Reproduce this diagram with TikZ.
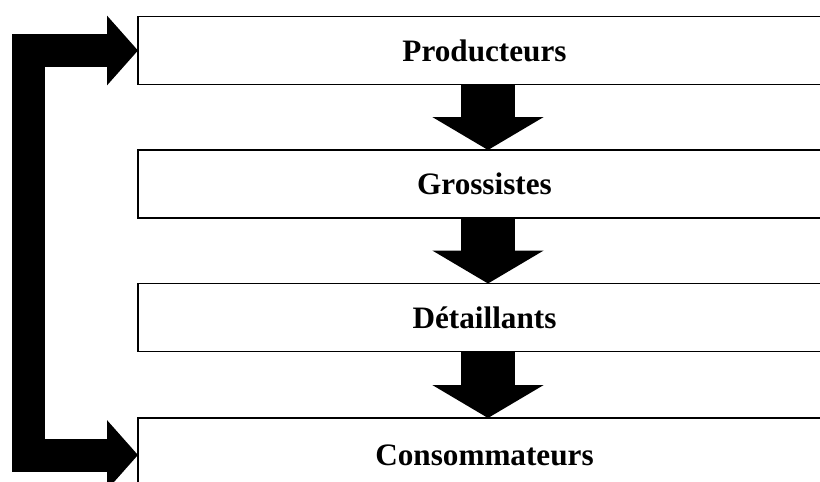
\documentclass[tikz,border=0pt]{standalone}
\usepackage{fontspec}
\setmainfont{Liberation Serif}
\usepackage{tikz}
\usetikzlibrary{arrows.meta,positioning,calc}

\begin{document}
\begin{tikzpicture}[
  x=0.5pt,y=-0.5pt,
  box/.style={draw,line width=0.75pt,minimum width=346.5pt,minimum height=34pt,
              inner sep=0pt,outer sep=0pt,font=\fontsize{15.6}{18}\selectfont\bfseries},
  down/.style={line width=27pt,-{Triangle[length=16.5pt,width=55pt]}},
  back/.style={line width=16.5pt,line join=miter,
               {Triangle[length=15.5pt,width=34pt]}-{Triangle[length=15.5pt,width=34pt]}}
]
\useasboundingbox (0,0) rectangle (820,482);
\clip (0,0) rectangle (820,482);

%% ── Chain of boxes ───────────────────────────────────────────────────────────
\node[box]                     (prod) at (484.5, 50.5) {Producteurs};
\node[box]                     (gros) at (484.5,184)   {Grossistes};
\node[box]                     (det)  at (484.5,317.5) {Détaillants};
\node[box,minimum height=37pt] (cons) at (484.5,455)   {Consommateurs};

%% ── Fat arrows between boxes ─────────────────────────────────────────────────
\draw[down] ([xshift=1.75pt]prod.south) -- ([xshift=1.75pt]gros.north);
\draw[down] ([xshift=1.75pt]gros.south) -- ([xshift=1.75pt]det.north);
\draw[down] ([xshift=1.75pt]det.south)  -- ([xshift=1.75pt]cons.north);

%% ── Return loop on the left ──────────────────────────────────────────────────
\coordinate (bend) at (28.5,0);
\draw[back] (prod.west) -| (bend |- cons.west) -- (cons.west);
\end{tikzpicture}
\end{document}
